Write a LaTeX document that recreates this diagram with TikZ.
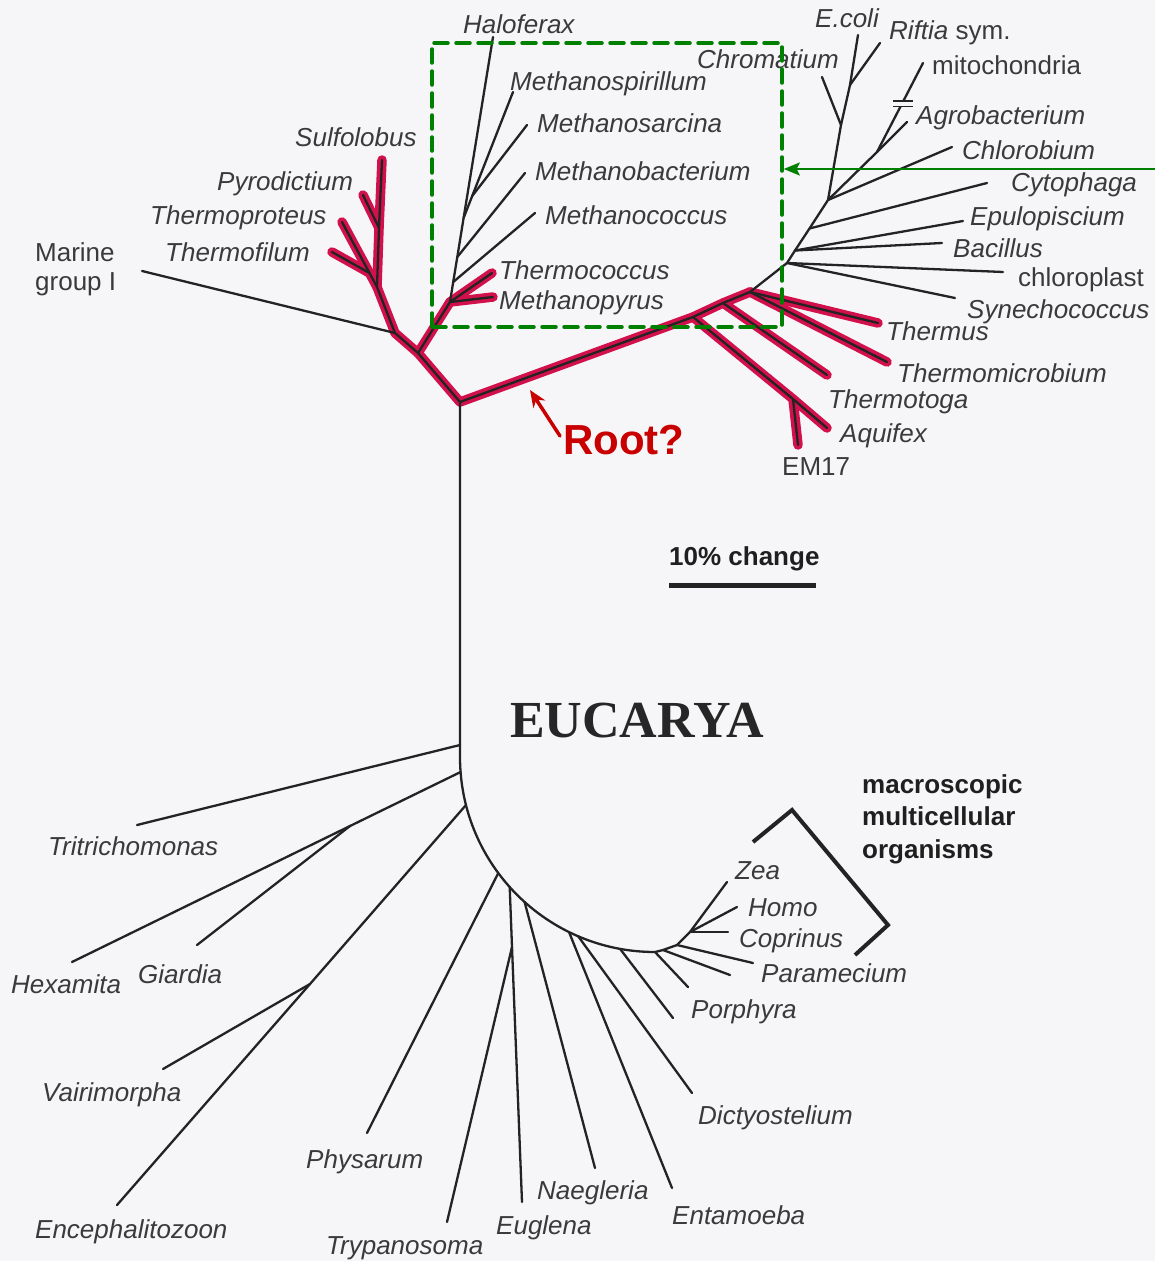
\documentclass[tikz,border=0pt]{standalone}
\usepackage{fontspec}
\setmainfont{Liberation Sans}
\newfontfamily\eucfont{Liberation Serif}
\usetikzlibrary{arrows.meta}
\definecolor{branch}{RGB}{35,35,35}
\definecolor{hilite}{RGB}{210,16,76}
\definecolor{labelgray}{RGB}{58,58,58}
\definecolor{boxgreen}{RGB}{0,128,0}
\definecolor{rootred}{RGB}{200,0,0}
\definecolor{paper}{RGB}{246,246,248}
\begin{document}
\begin{tikzpicture}[x=1pt,y=-1pt,line cap=round,line join=round,
  br/.style={draw=branch,line width=2.3pt},
  hl/.style={draw=hilite,line width=9.5pt},
  lab/.style={inner sep=0pt,anchor=west,text height=18.6pt,text depth=0pt,text=labelgray,font=\fontsize{26}{30}\selectfont\itshape},
  labu/.style={lab,font=\fontsize{26}{30}\selectfont},
  labb/.style={lab,text=black!88,font=\fontsize{26}{30}\selectfont\bfseries}]
\fill[paper] (0,0) rectangle (1155,1261);
\useasboundingbox (0,0) rectangle (1155,1261);

% ---------- coordinates ----------
\coordinate (R) at (460,402);
% archaea
\coordinate (A1) at (418,353);
\coordinate (A2) at (395,333);
\coordinate (C1) at (377,287);
\coordinate (PyJ) at (379,228);
\coordinate (Sf) at (382,160);
\coordinate (Py) at (363,195);
\coordinate (TfJ) at (369.5,273);
\coordinate (Tp) at (342,222);
\coordinate (Tf) at (332,252);
\coordinate (Mg) at (142,271);
\coordinate (E1) at (450,302);
\coordinate (Tc) at (492,273);
\coordinate (Mp) at (493,297);
\coordinate (McJ) at (453.2,282);
\coordinate (MbJ) at (457.3,257);
\coordinate (MsJ) at (463.6,218);
\coordinate (Hf) at (493,37);
\coordinate (Mc) at (535,213);
\coordinate (Mb) at (525,173);
\coordinate (Msp) at (513,92);
\coordinate (MsaJ) at (472.2,196);
\coordinate (Msa) at (527,125);
% bacteria
\coordinate (B1) at (693,317);
\coordinate (B2) at (723,303);
\coordinate (B3) at (750,292);
\coordinate (B4) at (787,263);
\coordinate (X) at (793,399);
\coordinate (Aq) at (827,428);
\coordinate (EM) at (798,445);
\coordinate (Tg) at (827,375);
\coordinate (Tmi) at (887,362);
\coordinate (Ts) at (878,323);
\coordinate (Cp) at (1003,272);
\coordinate (Sy) at (955,298);
\coordinate (B5) at (795,250.5);
\coordinate (Bc) at (942,243);
\coordinate (Ep) at (963,221);
\coordinate (B6) at (809.5,228.5);
\coordinate (Cy) at (987,183);
\coordinate (P) at (828,200);
\coordinate (Cb) at (952,147);
\coordinate (Mt0) at (877,152);
\coordinate (Mt) at (923,63);
\coordinate (Ag) at (907,122);
\coordinate (Q) at (841,125);
\coordinate (Cr) at (822,77);
\coordinate (EJ) at (850,85);
\coordinate (Ec) at (858,35);
\coordinate (Rf) at (880,43);
% eucarya
\coordinate (V) at (460,757);
\coordinate (K) at (655,952);
\coordinate (TtJ) at (460,745);
\coordinate (Tt) at (137,825);
\coordinate (HxJ) at (460.6,772);
\coordinate (Hx) at (72,962);
\coordinate (GiJ) at (350,826);
\coordinate (Gi) at (197,945);
\coordinate (EnJ) at (466,805);
\coordinate (En) at (117,1205);
\coordinate (VaJ) at (310,984);
\coordinate (Va) at (163,1069);
\coordinate (PhJ) at (498.3,873);
\coordinate (Ph) at (367,1133);
\coordinate (EgJ) at (509.7,887);
\coordinate (Eg) at (522,1202);
\coordinate (TrJ) at (512,947);
\coordinate (Tr) at (447,1222);
\coordinate (NaJ) at (524.6,902);
\coordinate (Na) at (595,1168);
\coordinate (EaJ) at (569,932);
\coordinate (Ea) at (672,1188);
\coordinate (DiJ) at (578,936);
\coordinate (Di) at (692,1093);
\coordinate (PoJ) at (620,948.8);
\coordinate (Po) at (673,1018);
\coordinate (u1) at (688,987);
\coordinate (K2) at (663,950);
\coordinate (u2) at (730,975);
\coordinate (K3) at (677,945);
\coordinate (Pa) at (753,963);
\coordinate (K4) at (690,932);
\coordinate (Co) at (728,932);
\coordinate (Ho) at (737,907);
\coordinate (Ze) at (727,882);

% ---------- red highlight ----------
\draw[hl] (Sf) -- (PyJ) -- (C1) -- (A2) -- (A1) -- (R) -- (B1) -- (B2) -- (B3);
\draw[hl] (PyJ) -- (Py);
\draw[hl] (C1) -- (TfJ) -- (Tp);
\draw[hl] (TfJ) -- (Tf);
\draw[hl] (A1) -- (E1) -- (Tc);
\draw[hl] (E1) -- (Mp);
\draw[hl] (B1) -- (X) -- (Aq);
\draw[hl] (X) -- (EM);
\draw[hl] (B2) -- (Tg);
\draw[hl] (B3) -- (Ts);
\draw[hl] (B3) -- (Tmi);

% ---------- branches: archaea ----------
\draw[br] (Sf) -- (PyJ) -- (C1) -- (A2) -- (A1) -- (R);
\draw[br] (PyJ) -- (Py);
\draw[br] (C1) -- (TfJ) -- (Tp);
\draw[br] (TfJ) -- (Tf);
\draw[br] (A2) -- (Mg);
\draw[br] (A1) -- (E1) -- (Tc);
\draw[br] (E1) -- (Mp);
\draw[br] (E1) -- (McJ) -- (MbJ) -- (MsJ) -- (Hf);
\draw[br] (McJ) -- (Mc);
\draw[br] (MbJ) -- (Mb);
\draw[br] (MsJ) -- (MsaJ) -- (Msp);
\draw[br] (MsaJ) -- (Msa);

% ---------- branches: bacteria ----------
\draw[br] (R) -- (B1) -- (B2) -- (B3) -- (B4) -- (B5) -- (B6) -- (P) -- (Q) -- (EJ) -- (Ec);
\draw[br] (B1) -- (X) -- (Aq);
\draw[br] (X) -- (EM);
\draw[br] (B2) -- (Tg);
\draw[br] (B3) -- (Ts);
\draw[br] (B3) -- (Tmi);
\draw[br] (B4) -- (Cp);
\draw[br] (B4) -- (Sy);
\draw[br] (B5) -- (Bc);
\draw[br] (B5) -- (Ep);
\draw[br] (B6) -- (Cy);
\draw[br] (P) -- (Cb);
\draw[br] (P) -- (Mt0) -- (Mt);
\draw[br] (Mt0) -- (Ag);
\draw[br] (Q) -- (Cr);
\draw[br] (EJ) -- (Rf);
% break mark on the mitochondria branch
\coordinate (bk1) at (893,101);
\coordinate (bk2) at (913,101);
\coordinate (bk3) at (893,106.5);
\coordinate (bk4) at (913,106.5);
\fill[paper] (bk1) rectangle (bk4);
\draw[draw=branch,line width=1.6pt,line cap=butt] (bk1) -- (bk2);
\draw[draw=branch,line width=1.6pt,line cap=butt] (bk3) -- (bk4);

% ---------- branches: eucarya ----------
\draw[br] (R) -- (V) .. controls (460,864.7) and (547.3,952) .. (K) -- (K2) -- (K3) -- (K4) -- (Ze);
\draw[br] (TtJ) -- (Tt);
\draw[br] (HxJ) -- (GiJ) -- (Hx);
\draw[br] (GiJ) -- (Gi);
\draw[br] (EnJ) -- (VaJ) -- (En);
\draw[br] (VaJ) -- (Va);
\draw[br] (PhJ) -- (Ph);
\draw[br] (EgJ) -- (TrJ) -- (Eg);
\draw[br] (TrJ) -- (Tr);
\draw[br] (NaJ) -- (Na);
\draw[br] (EaJ) -- (Ea);
\draw[br] (DiJ) -- (Di);
\draw[br] (PoJ) -- (Po);
\draw[br] (K) -- (u1);
\draw[br] (K2) -- (u2);
\draw[br] (K3) -- (Pa);
\draw[br] (K4) -- (Co);
\draw[br] (K4) -- (Ho);

% ---------- labels: archaea ----------
\node[lab] (lHf) at (463,24) {Haloferax};
\node[lab] (lMsp) at (510,81) {Methanospirillum};
\node[lab] (lMsa) at (537,123) {Methanosarcina};
\node[lab] (lMb) at (535,171) {Methanobacterium};
\node[lab] (lMc) at (545,215) {Methanococcus};
\node[lab] (lTc) at (499,270) {Thermococcus};
\node[lab] (lMp) at (499,300) {Methanopyrus};
\node[lab] (lSf) at (295,137) {Sulfolobus};
\node[lab] (lPy) at (217,181) {Pyrodictium};
\node[lab] (lTp) at (150,215) {Thermoproteus};
\node[lab] (lTf) at (165,252) {Thermofilum};
\node[labu] (lMg1) at (35,252.5) {Marine};
\node[labu] (lMg2) at (35,281) {group I};

% ---------- labels: bacteria ----------
\node[lab] (lEc) at (815,18) {E.coli};
\node[labu] (lRf) at (889,30) {{\itshape Riftia} sym.};
\node[lab] (lCr) at (697,59) {Chromatium};
\node[labu] (lMt) at (932,65) {mitochondria};
\node[lab] (lAg) at (916,115) {Agrobacterium};
\node[lab] (lCb) at (962,150) {Chlorobium};
\node[lab] (lCy) at (1011,182) {Cytophaga};
\node[lab] (lEp) at (970,216) {Epulopiscium};
\node[lab] (lBc) at (953,248) {Bacillus};
\node[labu] (lCp) at (1018,277) {chloroplast};
\node[lab] (lSy) at (967,309) {Synechococcus};
\node[lab] (lTs) at (886,331) {Thermus};
\node[lab] (lTmi) at (897,373) {Thermomicrobium};
\node[lab] (lTg) at (828,399) {Thermotoga};
\node[lab] (lAq) at (840,433) {Aquifex};
\node[labu] (lEM) at (782,466) {EM17};

% ---------- labels: eucarya ----------
\node[lab] (lTt) at (48,846) {Tritrichomonas};
\node[lab] (lHx) at (11,984) {Hexamita};
\node[lab] (lGi) at (138,974) {Giardia};
\node[lab] (lVa) at (42,1092) {Vairimorpha};
\node[lab] (lEn) at (35,1229) {Encephalitozoon};
\node[lab] (lPh) at (306,1159) {Physarum};
\node[lab] (lTr) at (326,1245) {Trypanosoma};
\node[lab] (lEg) at (496,1225) {Euglena};
\node[lab] (lNa) at (537,1190) {Naegleria};
\node[lab] (lEa) at (672,1215) {Entamoeba};
\node[lab] (lDi) at (698,1115) {Dictyostelium};
\node[lab] (lPo) at (691,1009) {Porphyra};
\node[lab] (lPa) at (761,973) {Paramecium};
\node[lab] (lCo) at (739,938) {Coprinus};
\node[lab] (lHo) at (748,907) {Homo};
\node[lab] (lZe) at (735,870) {Zea};

\node[labb] (mm1) at (862,784) {macroscopic};
\node[labb] (mm2) at (862,816) {multicellular};
\node[labb] (mm3) at (862,849) {organisms};
\coordinate (bra1) at (753,842);
\coordinate (bra2) at (792,810);
\coordinate (bra3) at (888,925);
\coordinate (bra4) at (855,955);
\draw[draw=branch,line width=4pt,line cap=butt,line join=miter] (bra1) -- (bra2) -- (bra3) -- (bra4);

\node[inner sep=0pt,anchor=west,text height=35pt,text depth=0pt,text=black!85,font=\fontsize{52}{60}\selectfont\eucfont\bfseries] (euc) at (510,720) {EUCARYA};

% scale bar
\node[labb] (scl) at (669,556) {10\% change};
\coordinate (sb1) at (669,585);
\coordinate (sb2) at (816,585);
\draw[draw=branch,line width=5pt,line cap=butt] (sb1) -- (sb2);

% green box and arrow
\node[draw=boxgreen,line width=3.5pt,dash pattern=on 14pt off 8pt,minimum width=350pt,minimum height=284pt,inner sep=0pt] (box) at (607,185) {};
\coordinate (ga) at (1155,169);
\draw[boxgreen,line width=2pt,-{Stealth[length=16pt,width=13pt,inset=3pt]}] (ga) -- (box.east |- ga);

% root label
\node[inner sep=0pt,anchor=west,text height=30pt,text depth=0pt,text=rootred,font=\fontsize{42}{48}\selectfont\bfseries] (root) at (563,439) {Root?};
\coordinate (rt) at (530,390);
\draw[rootred,line width=3.5pt,-{Stealth[length=17pt,width=14pt]}] ([shift={(-3,-3)}]root.west) -- (rt);
\end{tikzpicture}
\end{document}
